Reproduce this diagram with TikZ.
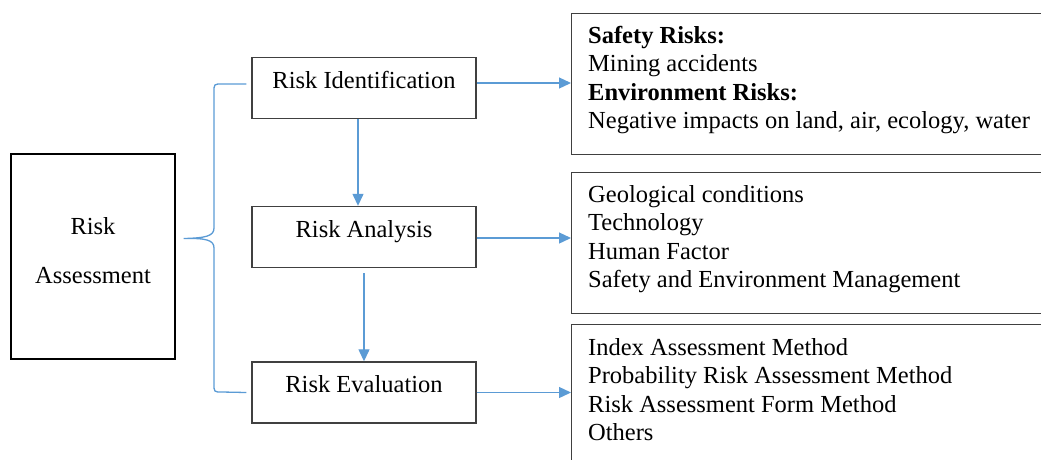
\documentclass[tikz,border=0pt]{standalone}
\usepackage{fontspec}
\setmainfont{Liberation Serif}
\usetikzlibrary{arrows.meta,calc}
\definecolor{linkblue}{HTML}{5B9BD5}
\definecolor{boxgray}{HTML}{404040}
\begin{document}
\begin{tikzpicture}[x=1pt,y=-1pt,
  txt/.style={font=\fontsize{24.5}{28.5}\selectfont},
  stagebox/.style={draw=boxgray, line width=1.4pt, minimum width=224pt,
    minimum height=61pt, inner sep=0pt, txt, text height=9pt, text depth=9pt},
  listbox/.style={draw=boxgray, line width=1.4pt, minimum width=520pt,
    inner sep=0pt, anchor=north west},
  listtext/.style={txt, inner sep=0pt, anchor=north west, align=left},
  link/.style={draw=linkblue, line width=1.3pt,
    -{Triangle[length=12pt,width=11pt]}},
  bracket/.style={draw=linkblue, line width=1.3pt}
]
\useasboundingbox (0,0) rectangle (1041,459);
\clip (0,0) rectangle (1041,459);

% root box
\node[draw=black, line width=1.4pt, minimum width=164pt, minimum height=205pt,
  inner sep=0pt, align=center, font=\fontsize{24.5}{49}\selectfont,
  text depth=13pt] (ra) at (93,256.5) {Risk\\Assessment};

% the three stages
\node[stagebox] (id) at (364,88)    {Risk Identification};
\node[stagebox] (an) at (364,237)   {Risk Analysis};
\node[stagebox] (ev) at (364,392.5) {Risk Evaluation};

% detail boxes (running off the right edge)
\node[listbox, minimum height=141pt] (d1) at (571,13)  {};
\node[listbox, minimum height=141pt] (d2) at (571,172) {};
\node[listbox, minimum height=200pt] (d3) at (571,324) {};

\node[listtext] (t1) at (588,26) {\textbf{Safety Risks:}\\Mining accidents\\
  \textbf{Environment Risks:}\\Negative impacts on land, air, ecology, water};
\node[listtext] (t2) at (588,185) {Geological conditions\\Technology\\
  Human Factor\\Safety and Environment Management};
\node[listtext] (t3) at (588,338) {Index Assessment Method\\
  Probability Risk Assessment Method\\Risk Assessment Form Method\\Others};

% brace grouping the stages
\coordinate (bt) at ($(id.west)+(-5,-4)$);
\coordinate (bb) at ($(ev.west)+(-5,0)$);
\coordinate (tip) at ($(ra.east)+(8,-18)$);
\path[bracket] (bt) -- (222,84) .. controls (214,84) .. (214,92)
  -- (214,228) .. controls (214,236) and (206,238) .. (tip)
  .. controls (206,238) and (214,240) .. (214,248)
  -- (214,384) .. controls (214,392) .. (222,392) -- (bb);

% connectors
\draw[link] ($(id.east)+(0,-5)$) -- ($(id.east -| d1.west)+(0,-5)$);
\draw[link] ($(an.east)+(0,1)$) -- ($(an.east -| d2.west)+(0,1)$);
\draw[link] (ev.east) -- (ev.east -| d3.west);
\draw[link] ($(id.south)+(-6,0)$) -- ($(an.north)+(-6,0)$);
\draw[link] ($(an.south)+(0,5)$) -- (ev.north);
\end{tikzpicture}
\end{document}
